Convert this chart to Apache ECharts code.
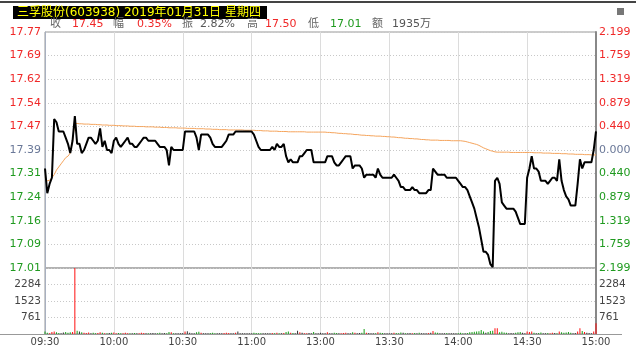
<!DOCTYPE html>
<html><head><meta charset="utf-8">
<script src="https://cdn.jsdelivr.net/npm/echarts@6/dist/echarts.min.js"></script>
<style>html,body{margin:0;padding:0;background:#fff}#c{width:636px;height:348px}</style>
</head><body><div id="c"></div>
<script>
const titleText = '三孚股份(603938) 2019年01月31日 星期四';
const infoLabels = ['收','幅','振','高','低','额'];
const infoValues = ['17.45','0.35%','2.82%','17.50','17.01','1935万'];
const timeLabels = ['09:30','10:00','10:30','11:00','13:00','13:30','14:00','14:30','15:00'];
const priceLabels = ['17.01','17.09','17.16','17.24','17.31','17.39','17.47','17.54','17.62','17.69','17.77'];
const pctLabels = ['2.199','1.759','1.319','0.879','0.440','0.000','0.440','0.879','1.319','1.759','2.199'];
const volLabels = ['','761','1523','2284',''];
const preClose = 17.39;
const priceStep = 0.07648;
const volMax = 3045;

const prices = [
17.33,17.25,17.28,17.30,17.49,17.48,17.45,17.45,17.45,17.43,
17.41,17.38,17.42,17.50,17.41,17.41,17.38,17.39,17.41,17.43,
17.43,17.42,17.41,17.42,17.46,17.40,17.42,17.39,17.39,17.38,
17.42,17.43,17.41,17.40,17.41,17.42,17.43,17.41,17.41,17.40,
17.40,17.41,17.42,17.43,17.43,17.42,17.42,17.42,17.42,17.41,
17.40,17.40,17.40,17.39,17.34,17.40,17.39,17.39,17.39,17.39,
17.39,17.45,17.45,17.45,17.45,17.45,17.43,17.39,17.44,17.44,
17.44,17.44,17.43,17.41,17.40,17.40,17.40,17.40,17.41,17.42,
17.44,17.44,17.44,17.45,17.45,17.45,17.45,17.45,17.45,17.45,
17.45,17.44,17.42,17.40,17.39,17.39,17.39,17.39,17.39,17.40,
17.39,17.41,17.40,17.40,17.41,17.37,17.35,17.36,17.35,17.35,
17.35,17.37,17.37,17.38,17.39,17.39,17.39,17.35,17.35,17.35,
17.35,17.35,17.35,17.37,17.37,17.37,17.35,17.34,17.34,17.35,
17.36,17.37,17.37,17.37,17.33,17.34,17.34,17.34,17.33,17.30,
17.31,17.31,17.31,17.31,17.30,17.33,17.31,17.30,17.30,17.30,
17.30,17.30,17.31,17.30,17.29,17.27,17.27,17.26,17.26,17.26,
17.27,17.26,17.26,17.25,17.25,17.25,17.25,17.26,17.26,17.33,
17.32,17.31,17.31,17.31,17.31,17.30,17.30,17.30,17.30,17.30,
17.29,17.28,17.27,17.27,17.26,17.24,17.22,17.20,17.17,17.14,
17.10,17.06,17.06,17.05,17.02,17.01,17.29,17.30,17.28,17.22,
17.21,17.20,17.20,17.20,17.20,17.19,17.17,17.15,17.15,17.15,
17.30,17.33,17.37,17.33,17.33,17.32,17.29,17.29,17.29,17.28,
17.29,17.30,17.30,17.29,17.36,17.29,17.26,17.24,17.23,17.21,
17.21,17.21,17.28,17.36,17.33,17.35,17.35,17.35,17.35,17.39,
17.45];

const avgPrices = [
17.300,17.290,17.292,17.300,17.310,17.325,17.335,17.345,17.355,17.365,
17.370,17.380,17.420,17.476,17.476,17.475,17.475,17.474,17.474,17.474,
17.473,17.473,17.473,17.472,17.472,17.471,17.471,17.471,17.470,17.470,
17.470,17.469,17.469,17.469,17.468,17.468,17.468,17.467,17.467,17.467,
17.466,17.466,17.466,17.466,17.465,17.465,17.465,17.465,17.464,17.464,
17.464,17.463,17.463,17.463,17.462,17.462,17.462,17.462,17.461,17.461,
17.461,17.461,17.460,17.460,17.460,17.460,17.459,17.459,17.459,17.459,
17.458,17.458,17.458,17.457,17.457,17.457,17.456,17.456,17.456,17.456,
17.455,17.455,17.455,17.455,17.455,17.455,17.455,17.454,17.454,17.454,
17.454,17.454,17.453,17.453,17.453,17.452,17.452,17.452,17.451,17.451,
17.451,17.451,17.450,17.450,17.450,17.450,17.449,17.449,17.449,17.449,
17.449,17.449,17.449,17.449,17.448,17.448,17.448,17.448,17.448,17.448,
17.448,17.448,17.448,17.447,17.447,17.446,17.446,17.445,17.444,17.444,
17.443,17.443,17.442,17.442,17.441,17.440,17.440,17.439,17.438,17.438,
17.437,17.437,17.436,17.436,17.435,17.435,17.435,17.434,17.434,17.433,
17.433,17.432,17.432,17.431,17.430,17.430,17.429,17.428,17.428,17.427,
17.427,17.426,17.426,17.425,17.424,17.424,17.423,17.423,17.422,17.422,
17.422,17.422,17.421,17.421,17.421,17.421,17.421,17.420,17.420,17.420,
17.420,17.420,17.419,17.418,17.416,17.414,17.412,17.410,17.408,17.405,
17.401,17.397,17.394,17.391,17.388,17.386,17.384,17.383,17.383,17.383,
17.383,17.383,17.383,17.382,17.382,17.382,17.382,17.382,17.382,17.382,
17.382,17.382,17.382,17.381,17.381,17.381,17.381,17.380,17.380,17.380,
17.380,17.379,17.379,17.379,17.379,17.378,17.378,17.378,17.377,17.377,
17.377,17.376,17.376,17.376,17.376,17.375,17.375,17.375,17.374,17.374,
17.374];

const volumes = [
120,60,40,90,110,80,50,40,70,90,
60,80,90,3045,150,120,80,60,50,70,
40,60,30,50,80,60,40,30,50,60,
70,40,50,30,40,60,30,40,30,50,
30,40,60,50,30,40,30,50,40,30,
60,40,50,40,90,80,40,30,40,30,
50,120,130,60,40,30,80,100,60,40,
30,40,50,60,40,30,40,30,50,60,
50,40,30,60,120,40,30,40,30,40,
30,60,50,40,30,40,30,40,30,50,
40,60,40,30,50,90,110,60,50,40,
150,80,60,40,30,50,40,90,40,30,
60,40,30,80,40,30,60,50,40,30,
50,60,40,30,80,60,40,50,60,230,
60,50,40,30,40,80,60,50,30,40,
40,30,60,50,40,70,60,40,30,50,
40,50,30,60,40,30,40,50,60,140,
70,60,40,30,40,50,40,30,40,30,
50,60,40,30,50,80,90,100,120,130,
180,120,60,90,140,150,270,260,80,100,
70,60,40,50,40,60,80,90,60,40,
120,90,110,60,40,50,70,40,30,50,
40,60,50,40,120,80,60,70,90,60,
40,50,120,270,140,90,60,50,40,110,
500];

const RED = '#f02828', GREEN = '#1f9a1f', MID = '#6a7898', GRAY = '#555';
const FONT = 'DejaVu Sans, Noto Sans CJK SC, sans-serif';

function volColor(i) {
  const prev = i === 0 ? preClose : prices[i - 1];
  if (prices[i] > prev) return '#ff1010';
  if (prices[i] < prev) return '#18a018';
  return '#333';
}

const chart = echarts.init(document.getElementById('c'), null, {renderer: 'canvas'});

function priceRich(size) {
  return {
    r: {color: RED, fontSize: size, fontFamily: FONT},
    g: {color: GREEN, fontSize: size, fontFamily: FONT},
    m: {color: MID, fontSize: size, fontFamily: FONT}
  };
}
function tag(k) { return k > 5 ? 'r' : (k < 5 ? 'g' : 'm'); }

const infoX = [[50, 72], [113, 137], [182, 200], [247, 265], [308, 330], [372, 392]];
const infoColors = [RED, RED, GRAY, RED, GREEN, GRAY];
const infoGraphics = [];
infoLabels.forEach((lab, k) => {
  infoGraphics.push({type: 'text', x: infoX[k][0], y: 24.5,
    style: {text: lab, fill: '#666', font: '11px ' + FONT, textVerticalAlign: 'middle', verticalAlign: 'middle'}});
  infoGraphics.push({type: 'text', x: infoX[k][1], y: 24.5,
    style: {text: infoValues[k], fill: infoColors[k], font: '11px ' + FONT, textVerticalAlign: 'middle', verticalAlign: 'middle'}});
});

const option = {
  animation: false,
  backgroundColor: '#fff',
  grid: [
    {left: 45, top: 32, width: 551, height: 236, show: true, borderColor: '#999', borderWidth: 1},
    {left: 45, top: 268, width: 551, height: 66, show: true, borderColor: '#999', borderWidth: 1}
  ],
  xAxis: [
    {type: 'value', gridIndex: 0, min: 0, max: 240, interval: 30,
     axisLine: {show: false}, axisTick: {show: false}, axisLabel: {show: false},
     splitLine: {show: true, lineStyle: {color: '#dcdcdc', width: 1}}},
    {type: 'value', gridIndex: 1, min: 0, max: 240, interval: 30,
     axisLine: {show: true, lineStyle: {color: '#999'}}, axisTick: {show: false},
     axisLabel: {show: true, margin: 3, color: '#444', fontSize: 10, fontFamily: FONT,
       formatter: v => timeLabels[Math.round(v / 30)] || ''},
     splitLine: {show: true, lineStyle: {color: '#dcdcdc', width: 1}}}
  ],
  yAxis: [
    {type: 'value', gridIndex: 0, min: -5, max: 5, interval: 1, position: 'left',
     axisLine: {show: true, lineStyle: {color: '#a8b0c0'}}, axisTick: {show: false},
     axisLabel: {margin: 4, fontSize: 11, fontFamily: FONT,
       formatter: v => { const k = Math.round(v) + 5; return '{' + tag(k) + '|' + priceLabels[k] + '}'; },
       rich: priceRich(11)},
     splitLine: {show: true, lineStyle: {color: '#c8c8c8', type: [1, 2]}}},
    {type: 'value', gridIndex: 0, min: -5, max: 5, interval: 1, position: 'right',
     axisLine: {show: true, lineStyle: {color: '#888', width: 2}}, axisTick: {show: false},
     axisLabel: {margin: 3, fontSize: 11, fontFamily: FONT,
       formatter: v => { const k = Math.round(v) + 5; return '{' + tag(k) + '|' + pctLabels[k] + '}'; },
       rich: priceRich(11)},
     splitLine: {show: false}},
    {type: 'value', gridIndex: 1, min: 0, max: volMax, interval: volMax / 4, position: 'left',
     axisLine: {show: true, lineStyle: {color: '#a8b0c0'}}, axisTick: {show: false},
     axisLabel: {margin: 4, color: '#444', fontSize: 10.5, fontFamily: FONT,
       formatter: v => volLabels[Math.round(v / (volMax / 4))] || ''},
     splitLine: {show: true, lineStyle: {color: '#c8c8c8', type: [1, 2]}}},
    {type: 'value', gridIndex: 1, min: 0, max: volMax, interval: volMax / 4, position: 'right',
     axisLine: {show: true, lineStyle: {color: '#888', width: 2}}, axisTick: {show: false},
     axisLabel: {margin: 3, color: '#444', fontSize: 10.5, fontFamily: FONT,
       formatter: v => volLabels[Math.round(v / (volMax / 4))] || ''},
     splitLine: {show: false}}
  ],
  series: [
    {type: 'line', xAxisIndex: 0, yAxisIndex: 0, symbol: 'none', z: 3,
     lineStyle: {color: '#f5a45c', width: 1},
     data: avgPrices.map((p, i) => [i, (p - preClose) / priceStep])},
    {type: 'line', xAxisIndex: 0, yAxisIndex: 0, symbol: 'none', z: 4,
     lineStyle: {color: '#000', width: 2},
     data: prices.map((p, i) => [i, (p - preClose) / priceStep])},
    {type: 'bar', xAxisIndex: 1, yAxisIndex: 2, barWidth: 1,
     data: volumes.map((v, i) => ({value: [i, v], itemStyle: {color: volColor(i)}}))}
  ],
  graphic: [
    {type: 'rect', shape: {x: 0, y: 1, width: 636, height: 2}, style: {fill: '#444'}},
    {type: 'rect', shape: {x: 13, y: 6, width: 254, height: 13}, style: {fill: '#000'}},
    {type: 'text', x: 17, y: 12.5, style: {text: titleText, fill: '#ffff00', font: '12px ' + FONT, textVerticalAlign: 'middle', verticalAlign: 'middle'}},
    {type: 'rect', shape: {x: 617, y: 8, width: 7, height: 7}, style: {fill: '#777'}},
    {type: 'line', shape: {x1: 0, y1: 334.5, x2: 622, y2: 334.5}, style: {stroke: '#999', lineWidth: 1}}
  ].concat(infoGraphics)
};
chart.setOption(option);
</script>
</body></html>
